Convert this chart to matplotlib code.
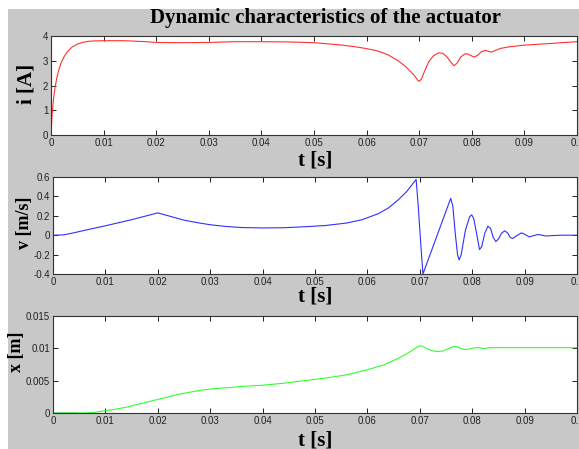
import numpy as np
import matplotlib
matplotlib.use('Agg')
import matplotlib.pyplot as plt
from matplotlib.patches import Rectangle

# ---- data ----
t_i = [0, 0.0002, 0.0005, 0.0008, 0.0011, 0.0015, 0.002, 0.0025, 0.003, 0.0035,
       0.004, 0.005, 0.006, 0.007, 0.008, 0.01, 0.014, 0.018, 0.02, 0.025,
       0.03, 0.035, 0.04, 0.045, 0.05, 0.055, 0.058, 0.06, 0.062, 0.064,
       0.066, 0.0675, 0.069, 0.0697, 0.070, 0.0704, 0.071, 0.0718, 0.0727, 0.0737,
       0.0745, 0.0753, 0.076, 0.0766, 0.0772, 0.0779, 0.0787, 0.0793, 0.0799, 0.0805,
       0.0811, 0.0818, 0.0825, 0.0832, 0.0838, 0.0845, 0.0855, 0.087, 0.09, 0.095, 0.1]
i_val = [0, 0.8, 1.5, 1.95, 2.3, 2.65, 2.95, 3.17, 3.33, 3.45,
         3.55, 3.67, 3.74, 3.78, 3.8, 3.81, 3.81, 3.77, 3.74, 3.73,
         3.74, 3.77, 3.77, 3.76, 3.73, 3.64, 3.56, 3.49, 3.4, 3.25,
         3.0, 2.75, 2.42, 2.22, 2.17, 2.25, 2.57, 2.95, 3.2, 3.32,
         3.3, 3.15, 2.95, 2.8, 2.9, 3.15, 3.28, 3.27, 3.2, 3.15,
         3.22, 3.36, 3.42, 3.38, 3.35, 3.42, 3.5, 3.56, 3.63, 3.7, 3.77]

t_v = [0, 0.002, 0.004, 0.006, 0.01, 0.015, 0.02, 0.022, 0.025, 0.028,
       0.03, 0.033, 0.036, 0.04, 0.044, 0.048, 0.052, 0.056, 0.059, 0.062,
       0.064, 0.066, 0.0675, 0.0685, 0.0693, 0.0697, 0.0702, 0.0706, 0.0759, 0.0763,
       0.0768, 0.0772, 0.0775, 0.0779, 0.0787, 0.0795, 0.0799, 0.0803, 0.0809, 0.0814,
       0.0818, 0.0824, 0.083, 0.0835, 0.084, 0.0845, 0.085, 0.0856, 0.0862, 0.0868,
       0.0872, 0.0877, 0.0885, 0.0894, 0.09, 0.0909, 0.0917, 0.0925, 0.0933, 0.094,
       0.095, 0.097, 0.1]
v_val = [0, 0.003, 0.025, 0.05, 0.097, 0.16, 0.23, 0.2, 0.155, 0.125,
         0.108, 0.09, 0.079, 0.075, 0.077, 0.087, 0.1, 0.125, 0.16, 0.22,
         0.28, 0.37, 0.45, 0.52, 0.575, 0.3, -0.1, -0.4, 0.38, 0.3,
         0.0, -0.2, -0.255, -0.2, 0.05, 0.19, 0.21, 0.17, 0.0, -0.148,
         -0.12, 0.02, 0.093, 0.07, -0.02, -0.066, -0.04, 0.02, 0.045, 0.02,
         -0.02, -0.034, -0.005, 0.024, 0.01, -0.017, -0.005, 0.007, 0.0, -0.008,
         -0.005, 0.0, 0.0]

t_x = [0, 0.006, 0.008, 0.01, 0.012, 0.014, 0.016, 0.018, 0.02, 0.022,
       0.024, 0.026, 0.028, 0.03, 0.033, 0.036, 0.04, 0.044, 0.048, 0.052,
       0.056, 0.06, 0.063, 0.066, 0.068, 0.0695, 0.07, 0.0706, 0.0715, 0.0725,
       0.0735, 0.0745, 0.0755, 0.0765, 0.0772, 0.078, 0.0787, 0.0795, 0.0805, 0.0813,
       0.082, 0.0828, 0.083, 0.1]
x_val = [0, 0, 0.0001, 0.00036, 0.0006, 0.0009, 0.0013, 0.0017, 0.0021, 0.0025,
         0.0029, 0.0032, 0.0035, 0.0037, 0.0039, 0.0041, 0.0043, 0.0046, 0.005, 0.0054,
         0.0059, 0.0067, 0.0074, 0.0085, 0.0094, 0.0102, 0.0104, 0.0103, 0.0099, 0.0096,
         0.0095, 0.0096, 0.0100, 0.0103, 0.0102, 0.0099, 0.0098, 0.0099, 0.0101, 0.0101,
         0.0100, 0.0100, 0.0101, 0.0101]
t_x0 = [0, 0.0045]
x_x0 = [0, 0]

xticks = [0, 0.01, 0.02, 0.03, 0.04, 0.05, 0.06, 0.07, 0.08, 0.09, 0.1]
xticklabels = ['0', '0.01', '0.02', '0.03', '0.04', '0.05', '0.06', '0.07', '0.08', '0.09', '0.1']

W, H = 579, 449
fig = plt.figure(figsize=(W / 100, H / 100), dpi=100, facecolor='white')
fig.patches.append(Rectangle((8 / W, 0), 1, 1 - 9 / H, transform=fig.transFigure,
                             facecolor='#c8c8c8', edgecolor='none', zorder=-10))

serif = 'Liberation Serif'
sans = 'Liberation Sans'


def make_axes(rect, t, y, color, yticks, yticklabels, ylim):
    ax = fig.add_axes(rect)
    ax.plot(t, y, color=color, lw=0.8)
    ax.set_xlim(0, 0.1)
    ax.set_ylim(*ylim)
    ax.set_xticks(xticks)
    ax.set_xticklabels(xticklabels, fontfamily=sans, fontsize=7, color='#222222')
    ax.set_yticks(yticks)
    ax.set_yticklabels(yticklabels, fontfamily=sans, fontsize=7, color='#222222')
    ax.tick_params(direction='in', length=3.5, width=0.7, top=True, right=True,
                   colors='#222222', pad=2)
    for s in ax.spines.values():
        s.set_color('#333333')
        s.set_linewidth(0.8)
    ax.set_facecolor('white')
    return ax


ax1 = make_axes([51 / W, 1 - 135 / H, 526 / W, 99 / H], t_i, i_val, '#ff3030',
                [0, 1, 2, 3, 4], ['0', '1', '2', '3', '4'], (0, 4))
ax2 = make_axes([53 / W, 1 - 274 / H, 524 / W, 97 / H], t_v, v_val, '#3030ff',
                [-0.4, -0.2, 0, 0.2, 0.4, 0.6], ['-0.4', '-0.2', '0', '0.2', '0.4', '0.6'],
                (-0.4, 0.6))
ax3 = make_axes([53 / W, 1 - 413 / H, 524 / W, 97 / H], t_x, x_val, '#30ff30',
                [0, 0.005, 0.01, 0.015], ['0', '0.005', '0.01', '0.015'], (0, 0.015))
ax3.plot(t_x0, x_x0, color='#008000', lw=0.9)

fig.text(326 / W, 1 - 18 / H, 'Dynamic characteristics of the actuator',
         fontfamily=serif, fontweight='bold', fontsize=15, ha='center', va='center')

for yc in (160, 297, 440):
    fig.text(315 / W, 1 - yc / H, 't [s]', fontfamily=serif, fontweight='bold',
             fontsize=15, ha='center', va='center')

fig.text(27 / W, 1 - 84 / H, 'i [A]', fontfamily=serif, fontweight='bold',
         fontsize=15, rotation=90, ha='center', va='center')
fig.text(25 / W, 1 - 223 / H, 'v [m/s]', fontfamily=serif, fontweight='bold',
         fontsize=13, rotation=90, ha='center', va='center')
fig.text(16 / W, 1 - 352 / H, 'x [m]', fontfamily=serif, fontweight='bold',
         fontsize=13, rotation=90, ha='center', va='center')

fig.savefig('out.png', dpi=100, facecolor=fig.get_facecolor())
